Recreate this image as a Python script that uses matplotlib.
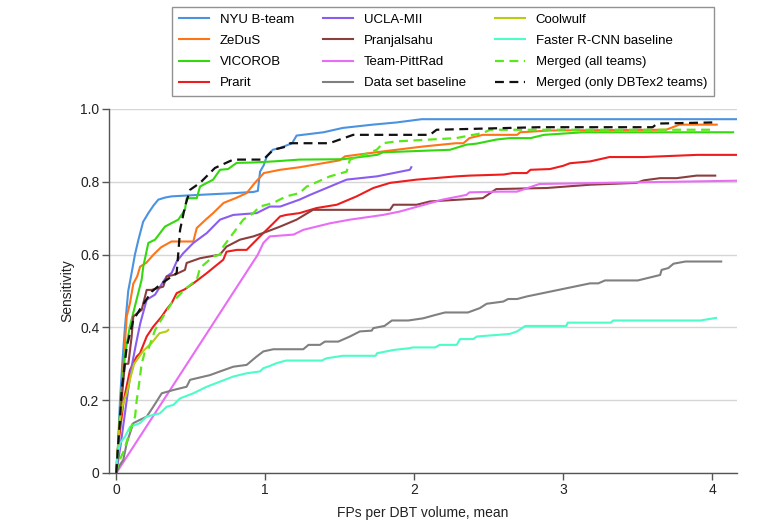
import matplotlib
matplotlib.use("Agg")
import matplotlib.pyplot as plt

plt.rcParams["font.family"] = ["Liberation Sans", "DejaVu Sans"]
plt.rcParams["font.size"] = 10

# FROC curves (x = mean FPs per volume, y = sensitivity)
nyu_x = [0, 0.01, 0.025, 0.04, 0.058, 0.08, 0.103, 0.125, 0.148, 0.18, 0.215, 0.25, 0.282, 0.33, 0.372, 0.46,
         0.6, 0.75, 0.92, 0.95, 0.965, 0.99, 1.01, 1.05, 1.1, 1.18, 1.21, 1.39, 1.52, 1.72, 1.88, 2.05, 4.16]
nyu_y = [0, 0.06, 0.2, 0.3, 0.4, 0.5, 0.55, 0.6, 0.64, 0.69, 0.714, 0.735, 0.751, 0.757, 0.76, 0.762,
         0.765, 0.768, 0.772, 0.775, 0.828, 0.846, 0.87, 0.888, 0.893, 0.906, 0.927, 0.936, 0.948, 0.957, 0.963, 0.972, 0.972]

zedus_x = [0, 0.02, 0.04, 0.07, 0.092, 0.114, 0.14, 0.16, 0.2, 0.25, 0.3, 0.37, 0.46, 0.517, 0.54, 0.6, 0.65,
           0.72, 0.8, 0.875, 0.93, 0.99, 1.1, 1.23, 1.5, 1.535, 1.8, 2.06, 2.28, 2.33, 2.37, 2.46, 2.69, 2.71,
           2.91, 3.69, 3.78, 4.03]
zedus_y = [0, 0.12, 0.25, 0.43, 0.467, 0.52, 0.54, 0.567, 0.577, 0.6, 0.62, 0.636, 0.636, 0.636, 0.673, 0.696, 0.714,
           0.742, 0.755, 0.769, 0.797, 0.824, 0.833, 0.84, 0.859, 0.87, 0.884, 0.897, 0.906, 0.906, 0.92, 0.929, 0.929, 0.936,
           0.941, 0.943, 0.957, 0.957]

vicorob_x = [0, 0.03, 0.06, 0.09, 0.126, 0.17, 0.181, 0.215, 0.26, 0.327, 0.416, 0.461, 0.472, 0.54, 0.562, 0.65,
             0.696, 0.75, 0.808, 0.919, 1.054, 1.23, 1.52, 1.75, 1.79, 2.24, 2.35, 2.42, 2.55, 2.64, 2.78, 2.87, 3.13, 4.14]
vicorob_y = [0, 0.2, 0.33, 0.4, 0.46, 0.531, 0.567, 0.632, 0.641, 0.677, 0.696, 0.723, 0.755, 0.755, 0.787, 0.806,
             0.833, 0.835, 0.852, 0.853, 0.856, 0.861, 0.862, 0.874, 0.881, 0.888, 0.902, 0.905, 0.916, 0.92, 0.92, 0.929, 0.936, 0.936]

prarit_x = [0, 0.02, 0.05, 0.092, 0.137, 0.159, 0.204, 0.248, 0.305, 0.338, 0.372, 0.405, 0.461, 0.517, 0.607,
            0.718, 0.74, 0.81, 0.875, 0.964, 1.054, 1.1, 1.14, 1.23, 1.345, 1.48, 1.613, 1.725, 1.837, 2.016, 2.285,
            2.37, 2.6, 2.66, 2.755, 2.78, 2.91, 3.0, 3.045, 3.18, 3.31, 3.54, 3.9, 4.17]
prarit_y = [0, 0.1, 0.2, 0.283, 0.32, 0.329, 0.375, 0.402, 0.43, 0.45, 0.467, 0.494, 0.505, 0.521, 0.549,
            0.586, 0.608, 0.613, 0.613, 0.65, 0.686, 0.705, 0.709, 0.714, 0.728, 0.737, 0.76, 0.783, 0.797, 0.806, 0.815,
            0.817, 0.82, 0.824, 0.824, 0.833, 0.835, 0.844, 0.851, 0.856, 0.868, 0.868, 0.874, 0.874]

ucla_x = [0, 0.03, 0.06, 0.08, 0.103, 0.13, 0.16, 0.204, 0.26, 0.338, 0.372, 0.405, 0.45, 0.517, 0.607, 0.696,
          0.785, 0.942, 1.03, 1.1, 1.23, 1.30, 1.546, 1.75, 1.97, 1.98]
ucla_y = [0, 0.08, 0.17, 0.23, 0.292, 0.35, 0.41, 0.476, 0.49, 0.54, 0.55, 0.581, 0.604, 0.632, 0.659, 0.696,
          0.709, 0.714, 0.732, 0.732, 0.751, 0.764, 0.806, 0.815, 0.833, 0.84]

pranj_x = [0, 0.02, 0.04, 0.058, 0.081, 0.103, 0.114, 0.17, 0.204, 0.237, 0.315, 0.338, 0.394, 0.461, 0.472, 0.562,
           0.629, 0.696, 0.74, 0.83, 0.92, 1.01, 1.1, 1.21, 1.32, 1.837, 1.86, 2.016, 2.105, 2.46, 2.55, 2.89, 3.18,
           3.49, 3.54, 3.65, 3.76, 3.895, 4.02]
pranj_y = [0, 0.12, 0.22, 0.3, 0.3, 0.375, 0.43, 0.448, 0.503, 0.503, 0.512, 0.54, 0.545, 0.558, 0.577, 0.59,
           0.595, 0.6, 0.622, 0.641, 0.65, 0.663, 0.677, 0.696, 0.723, 0.723, 0.737, 0.737, 0.746, 0.755, 0.78, 0.783, 0.792,
           0.797, 0.804, 0.81, 0.81, 0.817, 0.817]

pitt_x = [0, 0.95, 0.987, 1.03, 1.19, 1.255, 1.434, 1.568, 1.79, 1.9, 2.19, 2.35, 2.37, 2.58, 2.69, 2.84, 4.16]
pitt_y = [0, 0.6, 0.632, 0.65, 0.655, 0.668, 0.686, 0.696, 0.709, 0.718, 0.751, 0.764, 0.771, 0.773, 0.773, 0.794, 0.803]

dsbase_x = [0, 0.02, 0.047, 0.07, 0.114, 0.204, 0.248, 0.305, 0.383, 0.472, 0.495, 0.629, 0.696, 0.785, 0.875, 0.942,
            0.987, 1.054, 1.255, 1.29, 1.367, 1.40, 1.49, 1.568, 1.635, 1.714, 1.725, 1.80, 1.85, 1.96, 2.06, 2.14,
            2.206, 2.36, 2.44, 2.486, 2.597, 2.63, 2.69, 2.755, 3.18, 3.235, 3.28, 3.50, 3.56, 3.65, 3.66, 3.705, 3.74,
            3.82, 4.06]
dsbase_y = [0, 0.02, 0.036, 0.082, 0.137, 0.155, 0.182, 0.219, 0.228, 0.237, 0.256, 0.269, 0.279, 0.292, 0.297, 0.32,
            0.334, 0.34, 0.34, 0.352, 0.352, 0.361, 0.361, 0.375, 0.389, 0.391, 0.398, 0.404, 0.419, 0.419, 0.425, 0.434,
            0.441, 0.441, 0.453, 0.465, 0.471, 0.478, 0.478, 0.485, 0.521, 0.521, 0.529, 0.529, 0.535, 0.544, 0.558, 0.563,
            0.575, 0.581, 0.581]

coolwulf_x = [0, 0.013, 0.025, 0.045, 0.07, 0.1, 0.12, 0.18, 0.237, 0.29, 0.338, 0.349]
coolwulf_y = [0, 0.082, 0.15, 0.19, 0.22, 0.27, 0.30, 0.335, 0.357, 0.384, 0.389, 0.393]

frcnn_x = [0, 0.025, 0.058, 0.092, 0.159, 0.204, 0.293, 0.338, 0.383, 0.428, 0.517, 0.607, 0.696, 0.785, 0.875,
           0.964, 0.987, 1.03, 1.077, 1.14, 1.38, 1.41, 1.52, 1.74, 1.75, 1.86, 1.97, 1.99, 2.14, 2.17, 2.285, 2.307,
           2.396, 2.42, 2.64, 2.69, 2.73, 2.745, 3.02, 3.03, 3.32, 3.335, 3.92, 4.025]
frcnn_y = [0.03, 0.082, 0.1, 0.127, 0.137, 0.155, 0.164, 0.182, 0.187, 0.205, 0.219, 0.237, 0.251, 0.265, 0.274,
           0.279, 0.288, 0.294, 0.302, 0.309, 0.309, 0.315, 0.322, 0.322, 0.329, 0.338, 0.343, 0.345, 0.345, 0.352, 0.352, 0.368,
           0.368, 0.375, 0.382, 0.389, 0.40, 0.404, 0.404, 0.413, 0.413, 0.419, 0.419, 0.426]

mall_x = [0, 0.013, 0.05, 0.081, 0.103, 0.126, 0.137, 0.148, 0.17, 0.19, 0.215, 0.26, 0.315, 0.372, 0.461, 0.54,
          0.562, 0.651, 0.696, 0.718, 0.785, 0.852, 0.919, 0.964, 1.054, 1.14, 1.23, 1.278, 1.434, 1.546, 1.568, 1.635,
          1.748, 1.79, 1.88, 2.28, 2.46, 2.51, 4.0]
mall_y = [0, 0.027, 0.06, 0.1, 0.13, 0.155, 0.2, 0.23, 0.3, 0.33, 0.34, 0.393, 0.43, 0.467, 0.505, 0.531,
          0.563, 0.595, 0.60, 0.622, 0.659, 0.696, 0.714, 0.732, 0.742, 0.76, 0.769, 0.787, 0.815, 0.828, 0.861, 0.87,
          0.888, 0.906, 0.911, 0.92, 0.934, 0.943, 0.943]

mdbt_x = [0, 0.013, 0.025, 0.036, 0.047, 0.07, 0.114, 0.17, 0.237, 0.305, 0.372, 0.405, 0.416, 0.428, 0.461, 0.495,
          0.562, 0.662, 0.785, 0.987, 1.054, 1.143, 1.166, 1.43, 1.59, 2.105, 2.15, 2.84, 3.6, 3.63, 4.0]
mdbt_y = [0, 0.082, 0.146, 0.228, 0.265, 0.347, 0.42, 0.457, 0.498, 0.521, 0.54, 0.549, 0.604, 0.668, 0.732, 0.778,
          0.797, 0.838, 0.861, 0.861, 0.888, 0.897, 0.906, 0.906, 0.929, 0.929, 0.943, 0.95, 0.95, 0.96, 0.963]

# (label, x, y, color, dashed) in legend order (column-major, 3 columns)
series = [
    ("NYU B-team", nyu_x, nyu_y, "#4a93e0", False),
    ("ZeDuS", zedus_x, zedus_y, "#ff7417", False),
    ("VICOROB", vicorob_x, vicorob_y, "#33d80f", False),
    ("Prarit", prarit_x, prarit_y, "#ee1c1c", False),
    ("UCLA-MII", ucla_x, ucla_y, "#8a5cf0", False),
    ("Pranjalsahu", pranj_x, pranj_y, "#8b3e3e", False),
    ("Team-PittRad", pitt_x, pitt_y, "#e86cf5", False),
    ("Data set baseline", dsbase_x, dsbase_y, "#808080", False),
    ("Coolwulf", coolwulf_x, coolwulf_y, "#b9cc12", False),
    ("Faster R-CNN baseline", frcnn_x, frcnn_y, "#4dfcc8", False),
    ("Merged (all teams)", mall_x, mall_y, "#5ae81a", True),
    ("Merged (only DBTex2 teams)", mdbt_x, mdbt_y, "#111111", True),
]

fig = plt.figure(figsize=(7.8, 5.28), dpi=100)
ax = fig.add_axes([109 / 780, 1 - 473 / 528, (737 - 109) / 780, (473 - 109) / 528])

for label, xs, ys, color, dashed in series:
    if dashed:
        ax.plot(xs, ys, color=color, lw=1.6, dashes=(4, 2.5), label=label)
    else:
        ax.plot(xs, ys, color=color, lw=1.5, label=label)

ax.set_xlim(-0.049, 4.166)
ax.set_ylim(0, 1.0)
ax.set_xticks([0, 1, 2, 3, 4])
ax.set_xticklabels(["0", "1", "2", "3", "4"])
ax.set_yticks([0, 0.2, 0.4, 0.6, 0.8, 1.0])
ax.set_yticklabels(["0", "0.2", "0.4", "0.6", "0.8", "1.0"])
ax.grid(axis="y", color="#d6d6d6", lw=1)
ax.set_axisbelow(True)
for s in ["top", "right"]:
    ax.spines[s].set_visible(False)
for s in ["left", "bottom"]:
    ax.spines[s].set_color("#555555")
    ax.spines[s].set_linewidth(1)
ax.tick_params(colors="#555555", labelcolor="#222222", length=5, width=1, labelsize=10, pad=2)
ax.set_xlabel("FPs per DBT volume, mean", fontsize=10, color="#222222", labelpad=7)
ax.set_ylabel("Sensitivity", fontsize=10, color="#222222", labelpad=4)

leg = fig.legend(loc="upper left", bbox_to_anchor=(172 / 780, 1 - 7 / 528), ncol=3, fontsize=9.5,
                 frameon=True, fancybox=False, edgecolor="#777777", handlelength=2.3,
                 handletextpad=0.8, columnspacing=2.2, labelspacing=0.68, borderpad=0.5,
                 borderaxespad=0)
leg.get_frame().set_linewidth(1)

fig.savefig("out.png", dpi=100)
